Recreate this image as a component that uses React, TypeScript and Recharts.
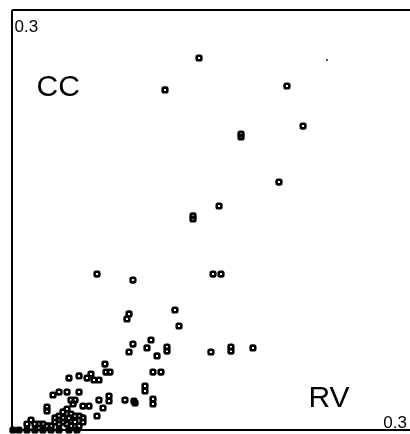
import React from "react";
import { ScatterChart, Scatter, XAxis, YAxis, ReferenceLine, Customized } from "recharts";

// RV values (x) and CC values (y)
const rvValues: number[] = [
  0.1336, 0.1093, 0.1964, 0.2079, 0.1636, 0.1636, 0.1907, 0.1479, 0.1293, 0.1293,
  0.1436, 0.1493, 0.0607, 0.0864, 0.0836, 0.0821, 0.1164, 0.1193, 0.0864, 0.0993,
  0.0836, 0.0964, 0.1107, 0.1107, 0.1036, 0.1421, 0.1564, 0.1564, 0.1721, 0.0664,
  0.0671, 0.07, 0.1007, 0.1064, 0.095, 0.095, 0.0407, 0.0479, 0.0536, 0.0564,
  0.0586, 0.0621, 0.0293, 0.0336, 0.0393, 0.0479, 0.0421, 0.045, 0.0436, 0.0507,
  0.055, 0.0621, 0.0693, 0.0693, 0.0807, 0.0871, 0.0879, 0.1007, 0.1007, 0.065,
  0.0607, 0.025, 0.025, 0.0393, 0.0364, 0.0421, 0.0336, 0.0307, 0.0364, 0.0407,
  0.045, 0.0479, 0.0507, 0.0507, 0.0136, 0.0107, 0.0164, 0.0193, 0.0221, 0.025,
  0.0279, 0.0307, 0.0336, 0.0364, 0.0393, 0.0421, 0.045, 0.0479, 0.0464, 0.0407,
  0.0336, 0.0279, 0.0221, 0.0164, 0.0107, 0.005, 0.0007,
];
const ccValues: number[] = [
  0.2657, 0.2429, 0.2457, 0.2171, 0.2114, 0.2093, 0.1771, 0.16, 0.1529, 0.1507,
  0.1114, 0.1114, 0.1114, 0.1071, 0.0829, 0.0793, 0.0857, 0.0743, 0.0614, 0.0643,
  0.0557, 0.0586, 0.0593, 0.0564, 0.0529, 0.0557, 0.0593, 0.0564, 0.0586, 0.0471,
  0.0414, 0.0414, 0.0414, 0.0414, 0.0314, 0.0279, 0.0371, 0.0386, 0.0371, 0.04,
  0.0357, 0.0357, 0.025, 0.0271, 0.0271, 0.0271, 0.0214, 0.0214, 0.0186, 0.0171,
  0.0171, 0.0214, 0.0243, 0.0207, 0.0214, 0.0207, 0.0193, 0.0221, 0.0186, 0.0157,
  0.01, 0.0164, 0.0136, 0.015, 0.0129, 0.0114, 0.01, 0.0086, 0.0086, 0.0086,
  0.01, 0.01, 0.0086, 0.0057, 0.0071, 0.0043, 0.0043, 0.0043, 0.0043, 0.0029,
  0.0029, 0.0057, 0.0043, 0.0057, 0.0043, 0.0029, 0.0057, 0.0029, 0, 0,
  0, 0, 0, 0, 0, 0, 0,
];
// a single point drawn as a tiny dot
const dotRv: number[] = [0.225];
const dotCc: number[] = [0.2643];

const axisMax = 0.3;
const axisLabels = { y: "CC", x: "RV", max: "0.3" };

const points = rvValues.map((x, i) => ({ x, y: ccValues[i] }));
const dots = dotRv.map((x, i) => ({ x, y: dotCc[i] }));

const SquareMarker = (props: any) => {
  const { cx, cy } = props;
  if (cx == null || cy == null) return null;
  return (
    <rect
      x={cx - 2.3}
      y={cy - 2.3}
      width={4.6}
      height={4.6}
      rx={1.3}
      fill="none"
      stroke="#000"
      strokeWidth={2.6}
    />
  );
};

const TinyDot = (props: any) => {
  const { cx, cy } = props;
  if (cx == null || cy == null) return null;
  return <circle cx={cx} cy={cy} r={0.9} fill="#000" />;
};

const Labels = () => (
  <g fontFamily="'Liberation Sans', Arial, sans-serif" fill="#000">
    <text x={6.5} y={24} fontSize={17}>{axisLabels.max}</text>
    <text x={28.5} y={88} fontSize={30}>{axisLabels.y}</text>
    <text x={300.5} y={398.5} fontSize={30}>{axisLabels.x}</text>
    <text x={399} y={420} fontSize={17} textAnchor="end">{axisLabels.max}</text>
  </g>
);

export default function App() {
  return (
    <div style={{ position: "fixed", left: 8, top: 8, width: 402, height: 426, overflow: "hidden" }}>
      <ScatterChart width={430} height={426} margin={{ top: 2, right: 6, bottom: 4, left: 4 }}>
        <XAxis type="number" dataKey="x" domain={[0, axisMax]} hide />
        <YAxis type="number" dataKey="y" domain={[0, axisMax]} hide />
        <ReferenceLine x={0} stroke="#000" strokeWidth={2} />
        <ReferenceLine y={0} stroke="#000" strokeWidth={2} />
        <ReferenceLine y={axisMax} stroke="#000" strokeWidth={2} />
        <ReferenceLine x={axisMax} stroke="#000" strokeWidth={2} />
        <Scatter data={points} shape={SquareMarker} isAnimationActive={false} />
        <Scatter data={dots} shape={TinyDot} isAnimationActive={false} />
        <Customized component={Labels} />
      </ScatterChart>
    </div>
  );
}
